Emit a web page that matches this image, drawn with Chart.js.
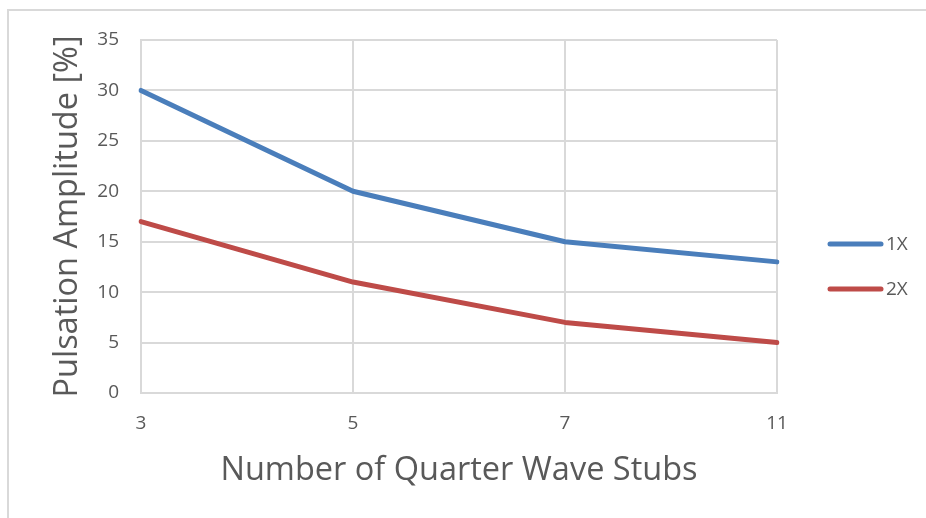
<!DOCTYPE html>
<html>
<head>
<meta charset="utf-8">
<script src="https://cdn.jsdelivr.net/npm/chart.js@4"></script>
<style>
  html, body { margin: 0; padding: 0; background: #fff; overflow: hidden; }
  #frame { position: absolute; left: 7px; top: 9px; width: 940px; height: 540px; border: 2px solid #d9d9d9; box-sizing: border-box; }
  #chartCanvas { position: absolute; left: 0; top: 0; }
</style>
</head>
<body>
<div id="frame"></div>
<canvas id="chartCanvas" width="926" height="518"></canvas>
<script>
const stubs = ['3', '5', '7', '11'];
const amp1X = [30, 20, 15, 13];
const amp2X = [17, 11, 7, 5];
const yTicks = [0, 5, 10, 15, 20, 25, 30, 35];

const FONT = "'Open Sans', sans-serif";
const TEXT = '#595959';
const GRID = '#d9d9d9';

// legend drawn by hand on the right, like the spreadsheet one
const sideLegend = {
    id: 'sideLegend',
    afterDraw(chart) {
        const ctx = chart.ctx;
        const rows = [244, 289];
        ctx.save();
        chart.data.datasets.forEach((ds, i) => {
            const y = rows[i];
            ctx.strokeStyle = ds.borderColor;
            ctx.lineWidth = 5;
            ctx.lineCap = 'round';
            ctx.beginPath();
            ctx.moveTo(830, y);
            ctx.lineTo(881, y);
            ctx.stroke();
            ctx.fillStyle = TEXT;
            ctx.font = '19px ' + FONT;
            ctx.textBaseline = 'middle';
            ctx.fillText(ds.label, 886, y + 1);
        });
        ctx.restore();
    }
};

new Chart(document.getElementById('chartCanvas').getContext('2d'), {
    type: 'line',
    data: {
        labels: stubs,
        datasets: [
            { label: '1X', data: amp1X, borderColor: '#4a7ebb', borderWidth: 5, pointRadius: 0, tension: 0, borderCapStyle: 'round', borderJoinStyle: 'round' },
            { label: '2X', data: amp2X, borderColor: '#be4b48', borderWidth: 5, pointRadius: 0, tension: 0, borderCapStyle: 'round', borderJoinStyle: 'round' }
        ]
    },
    options: {
        responsive: false,
        animation: false,
        layout: { padding: { left: 0, top: 40, right: 149, bottom: 0 } },
        plugins: { legend: { display: false }, tooltip: { enabled: false } },
        scales: {
            x: {
                offset: false,
                grid: { color: GRID, lineWidth: 2, drawTicks: false },
                border: { color: GRID, width: 2 },
                ticks: { color: TEXT, font: { family: FONT, size: 19 }, padding: 19, maxRotation: 0 },
                title: { display: true, text: 'Number of Quarter Wave Stubs', color: TEXT, font: { family: FONT, size: 32.5 }, padding: { top: 0, bottom: 28 } },
                afterFit(scale) { scale.height = 125; }
            },
            y: {
                min: 0,
                max: 35,
                afterBuildTicks(scale) { scale.ticks = yTicks.map(v => ({ value: v })); },
                grid: { color: GRID, lineWidth: 2, drawTicks: false },
                border: { color: GRID, width: 2 },
                ticks: { color: TEXT, font: { family: FONT, size: 19 }, padding: 22 },
                title: { display: true, text: 'Pulsation Amplitude [%]', color: TEXT, font: { family: FONT, size: 32.5 }, padding: { top: 48, bottom: 0 } },
                afterFit(scale) { scale.width = 141; }
            }
        }
    },
    plugins: [sideLegend]
});
</script>
</body>
</html>
